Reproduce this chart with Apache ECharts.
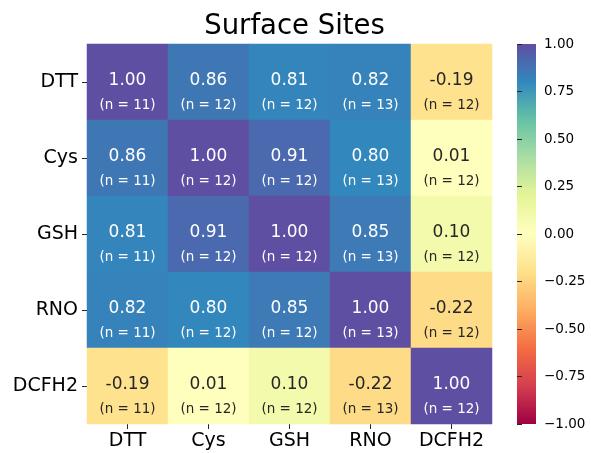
<!DOCTYPE html>
<html><head><meta charset="utf-8">
<script src="https://cdn.jsdelivr.net/npm/echarts@6/dist/echarts.min.js"></script>
<style>html,body{margin:0;padding:0;background:#fff}#c{width:591px;height:453px}</style>
</head><body><div id="c"></div>
<script>
const labels = ['DTT', 'Cys', 'GSH', 'RNO', 'DCFH2'];
const corr = [
  [1.00, 0.86, 0.81, 0.82, -0.19],
  [0.86, 1.00, 0.91, 0.80, 0.01],
  [0.81, 0.91, 1.00, 0.85, 0.10],
  [0.82, 0.80, 0.85, 1.00, -0.22],
  [-0.19, 0.01, 0.10, -0.22, 1.00]
];
const counts = [
  [11, 12, 12, 13, 12],
  [11, 12, 12, 13, 12],
  [11, 12, 12, 13, 12],
  [11, 12, 12, 13, 12],
  [11, 12, 12, 13, 12]
];
const colorbarTicks = [-1, -0.75, -0.5, -0.25, 0, 0.25, 0.5, 0.75, 1];
const spectral = ['#9e0142','#d53e4f','#f46d43','#fdae61','#fee08b','#ffffbf','#e6f598','#abdda4','#66c2a5','#3288bd','#5e4fa2'];
const FONT = 'DejaVu Sans';
const INK = '#262626';

const data = [];
for (let r = 0; r < labels.length; r++) {
  for (let c = 0; c < labels.length; c++) {
    const v = corr[r][c];
    const dark = v > 0.55;
    const col = dark ? '#ffffff' : INK;
    data.push({
      value: [c, r, v],
      label: {
        formatter: '{v|' + v.toFixed(2) + '}\n{n|(n = ' + counts[r][c] + ')}',
        rich: {
          v: { fontSize: 17, fontFamily: FONT, color: col, lineHeight: 24 },
          n: { fontSize: 13.5, fontFamily: FONT, color: col, lineHeight: 24 }
        }
      }
    });
  }
}

const chart = echarts.init(document.getElementById('c'), null, {renderer: 'canvas'});
chart.setOption({
  animation: false,
  backgroundColor: '#fff',
  title: {
    text: 'Surface Sites', left: 289.5, top: 8, textAlign: 'center',
    textStyle: { fontFamily: FONT, fontSize: 27.5, fontWeight: 'normal', color: '#000' }
  },
  grid: [
    { left: 87, top: 44, width: 405, height: 380 },
    { left: 517, top: 44, width: 19, height: 380 }
  ],
  xAxis: [
    { type: 'category', data: labels, gridIndex: 0, position: 'bottom',
      axisLine: { show: false }, axisTick: { show: true, length: 5, alignWithLabel: true, lineStyle: { color: INK } },
      axisLabel: { fontFamily: FONT, fontSize: 19, color: '#000', margin: 8, interval: 0 }, splitLine: { show: false } },
    { type: 'value', gridIndex: 1, show: false, min: 0, max: 1,
      axisLine: { show: false }, axisTick: { show: false }, axisLabel: { show: false }, splitLine: { show: false } }
  ],
  yAxis: [
    { type: 'category', data: labels, gridIndex: 0, inverse: true,
      axisLine: { show: false }, axisTick: { show: true, length: 5, alignWithLabel: true, lineStyle: { color: INK } },
      axisLabel: { fontFamily: FONT, fontSize: 19, color: '#000', margin: 9, interval: 0 }, splitLine: { show: false } },
    { type: 'value', gridIndex: 1, position: 'right', min: -1, max: 1, interval: 0.25,
      axisLine: { show: false }, axisTick: { show: true, length: 5, lineStyle: { color: INK } },
      splitLine: { show: false },
      axisLabel: { fontFamily: FONT, fontSize: 13.5, color: '#000', margin: 8,
        formatter: v => (v < 0 ? '\u2212' : '') + Math.abs(v).toFixed(2) } }
  ],
  visualMap: {
    type: 'continuous', min: -1, max: 1, seriesIndex: 0, show: false,
    inRange: { color: spectral }
  },
  series: [{
    type: 'heatmap', xAxisIndex: 0, yAxisIndex: 0, data: data,
    label: { show: true, offset: [0, 11] },
    itemStyle: { borderWidth: 0 },
    emphasis: { disabled: true }
  }]
});

// colour bar drawn in grid 1 using its own axes
const pTop = chart.convertToPixel({ xAxisIndex: 1, yAxisIndex: 1 }, [0, 1]);
const pBot = chart.convertToPixel({ xAxisIndex: 1, yAxisIndex: 1 }, [1, -1]);
const stops = spectral.slice().reverse().map((c, i) => ({ offset: i / (spectral.length - 1), color: c }));
chart.setOption({
  graphic: [{
    type: 'rect', z: -1,
    shape: { x: pTop[0], y: pTop[1], width: pBot[0] - pTop[0], height: pBot[1] - pTop[1] },
    style: { fill: new echarts.graphic.LinearGradient(0, 0, 0, 1, stops) },
    silent: true
  }]
});
</script></body></html>
